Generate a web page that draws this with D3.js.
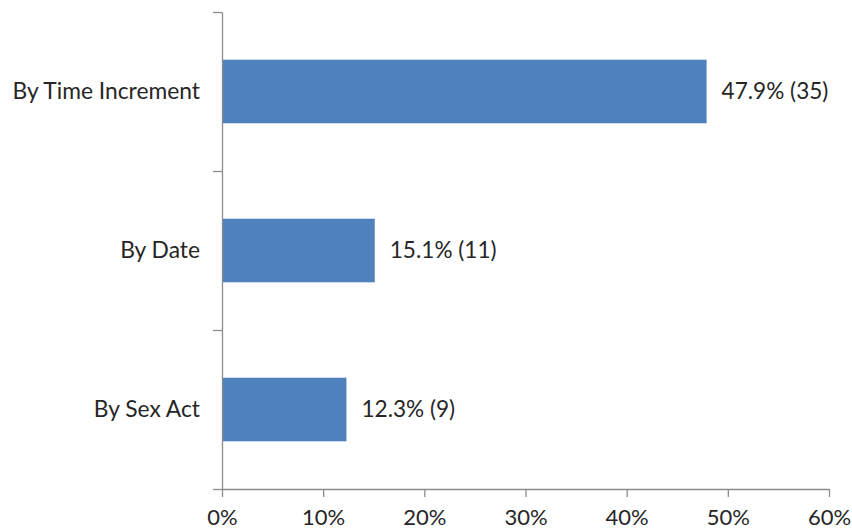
<!DOCTYPE html>
<html>
<head>
<meta charset="utf-8">
<script src="https://cdn.jsdelivr.net/npm/d3@7"></script>
<style>
  body { margin: 0; background: #fff; }
  text { font-family: Lato, "Open Sans", sans-serif; fill: #262626; }
  .axis path, .axis line { stroke: #8c8c8c; stroke-width: 1.3; }
</style>
</head>
<body>
<div id="chart"></div>
<script>
var categories = ["By Time Increment", "By Date", "By Sex Act"];
var percents = [47.9, 15.1, 12.3];
var counts = [35, 11, 9];
var xTicks = [0, 10, 20, 30, 40, 50, 60];

var W = 852, H = 531;
var margin = {top: 12, right: 23, bottom: 42, left: 222};
var width = W - margin.left - margin.right;
var height = H - margin.top - margin.bottom;

var svg = d3.select("#chart")
  .append("svg")
  .attr("width", W)
  .attr("height", H)
  .append("g").attr("transform", "translate(" + margin.left + "," + margin.top + ")");

var x = d3.scaleLinear().domain([0, 60]).range([0, width]);
var y = d3.scaleBand().domain(categories).range([0, height]).paddingInner(0.6).paddingOuter(0.3);

// bars
svg.selectAll("rect.bar")
  .data(categories)
  .enter().append("rect")
  .attr("class", "bar")
  .attr("x", 0)
  .attr("y", function (d) { return y(d); })
  .attr("width", function (d, i) { return x(percents[i]); })
  .attr("height", y.bandwidth())
  .attr("fill", "#4F81BD");

// value labels
svg.selectAll("text.val")
  .data(categories)
  .enter().append("text")
  .attr("class", "val")
  .attr("x", function (d, i) { return x(percents[i]) + 15; })
  .attr("y", function (d) { return y(d) + y.bandwidth() / 2; })
  .attr("dy", "0.35em")
  .style("font-size", "22.6px")
  .text(function (d, i) { return percents[i].toFixed(1) + "% (" + counts[i] + ")"; });

// y axis: boundary ticks
var yb = d3.scaleLinear().domain([0, categories.length]).range([0, height]);
svg.append("g")
  .attr("class", "axis")
  .call(d3.axisLeft(yb).tickValues([0, 1, 2, 3]).tickSize(9).tickSizeOuter(0).tickFormat(""));

// y axis labels
svg.append("g")
  .attr("class", "axis ylab")
  .call(d3.axisLeft(y).tickSize(0).tickPadding(22))
  .call(function (g) { g.select(".domain").remove(); })
  .selectAll("text")
  .style("font-size", "22.8px")
  .attr("fill", null);

// x axis
svg.append("g")
  .attr("class", "axis")
  .attr("transform", "translate(0," + height + ")")
  .call(d3.axisBottom(x).tickValues(xTicks).tickSize(8).tickSizeOuter(0).tickPadding(12)
    .tickFormat(function (d) { return d + "%"; }))
  .selectAll("text")
  .style("font-size", "22px")
  .attr("fill", null);
</script>
</body>
</html>
